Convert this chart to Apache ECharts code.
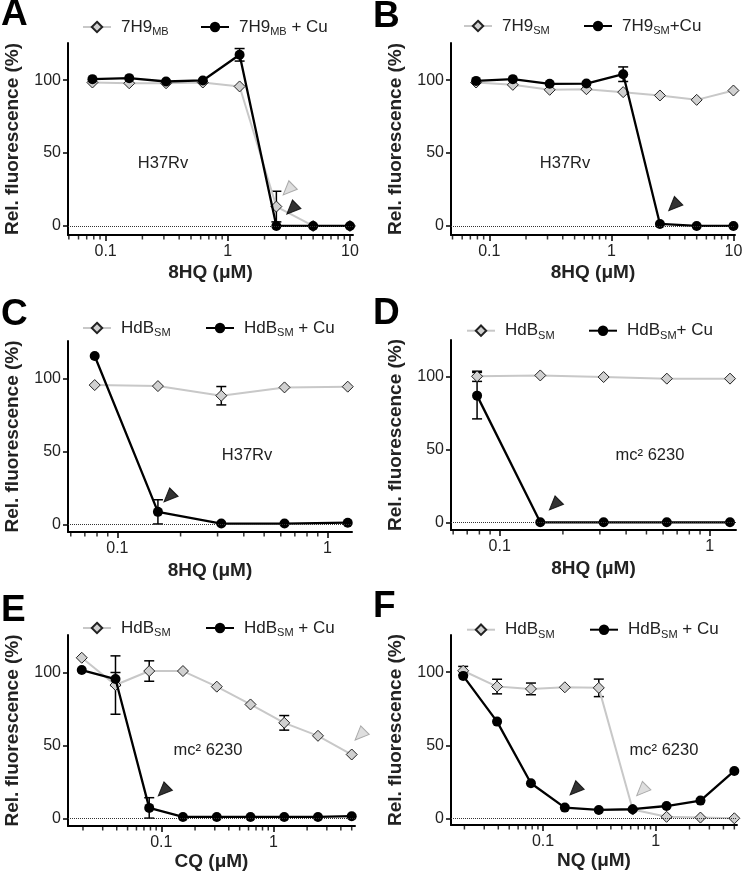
<!DOCTYPE html>
<html><head><meta charset="utf-8">
<script src="https://cdn.jsdelivr.net/npm/echarts@6/dist/echarts.min.js"></script>
<style>html,body{margin:0;padding:0;background:#fff}#c{width:742px;height:878px}</style>
</head><body><div id="c"></div>
<script>
// ---------- DATA ----------
const conc8 = [0.078, 0.156, 0.3125, 0.625, 1.25, 2.5, 5, 10];
const conc5 = [0.078, 0.156, 0.3125, 0.625, 1.25];
const conc9 = [0.0195, 0.039, 0.078, 0.156, 0.3125, 0.625, 1.25, 2.5, 5];

const greyA = [98.4, 97.9, 97.9, 98.4, 95.7, 13.3, 0, 0];
const greyErrA = [0, 0, 0, 0, 0, 10.5, 0, 0];
const blackA = [100.7, 101.4, 99.1, 99.8, 117.4, 0, 0, 0];
const blackErrA = [0, 0, 0, 0, 4.3, 0, 0, 0];

const greyB = [98.4, 96.8, 93.4, 93.8, 91.8, 89.5, 86.5, 92.9];
const greyErrB = [0, 0, 0, 0, 0, 0, 0, 0];
const blackB = [99.5, 100.7, 97.5, 97.7, 104.1, 1.4, 0, 0];
const blackErrB = [0, 0, 0, 0, 5, 0, 0, 0];

const greyC = [95.4, 94.7, 88.1, 93.8, 94.3];
const greyErrC = [0, 0, 6.3, 0, 0];
const blackC = [115.3, 8.5, 0.5, 0.5, 1.1];
const blackErrC = [0, 8.3, 0, 0, 0];

const greyD = [100.5, 101.1, 100, 98.9, 98.9];
const greyErrD = [3.5, 0, 0, 0, 0];
const blackD = [87.2, 0, 0, 0, 0];
const blackErrD = [16, 0, 0, 0, 0];

const greyE = [110, 91.3, 100.9, 100.9, 90.2, 78, 65.4, 56.5, 43.7];
const greyErrE = [0, 20, 7, 0, 0, 0, 5, 0, 0];
const blackE = [101.6, 95.4, 7.1, 0.9, 0.9, 0.9, 0.9, 0.9, 1.4];
const blackErrE = [0, 4.5, 7, 0, 0, 0, 0, 0, 0];

const greyF = [101, 90.2, 88.6, 89.7, 89.3, 6, 1, 0.5, 0];
const greyErrF = [3, 5, 4, 0, 6, 0, 0, 0, 0];
const blackF = [97.5, 66.2, 24, 7.3, 5.7, 6.2, 8.4, 12.1, 32.4];
const blackErrF = [0, 0, 0, 0, 0, 0, 0, 0, 0];

// arrowheads [conc, value]
const arrowBlackA = [[3.34, 11.5]];  const arrowGreyA = [[3.12, 24.7]];
const arrowBlackB = [[3.24, 13.9]];  const arrowGreyB = [];
const arrowBlackC = [[0.176, 18.7]]; const arrowGreyC = [];
const arrowBlackD = [[0.182, 11.9]]; const arrowGreyD = [];
const arrowBlackE = [[0.104, 18.7]]; const arrowGreyE = [[5.93, 57]];
const arrowBlackF = [[0.192, 19.4]]; const arrowGreyF = [[0.751, 18.9]];

const yTicks = [0, 50, 100];
const xTickLabels = [0.1, 1, 10];
const minorMultipliers = [2, 3, 4, 5, 6, 7, 8, 9];
const legendGrey = ['7H9{s|MB}', '7H9{s|SM}', 'HdB{s|SM}', 'HdB{s|SM}', 'HdB{s|SM}', 'HdB{s|SM}'];
const legendBlack = ['7H9{s|MB} + Cu', '7H9{s|SM}+Cu', 'HdB{s|SM} + Cu', 'HdB{s|SM}+ Cu', 'HdB{s|SM} + Cu', 'HdB{s|SM} + Cu'];
const xNames = ['8HQ (μM)', '8HQ (μM)', '8HQ (μM)', '8HQ (μM)', 'CQ (μM)', 'NQ (μM)'];
const strains = ['H37Rv', 'H37Rv', 'H37Rv', 'mc² 6230', 'mc² 6230', 'mc² 6230'];
const letters = ['A', 'B', 'C', 'D', 'E', 'F'];
const yName = 'Rel. fluorescence (%)';

// ---------- LAYOUT ----------
const FF = 'Liberation Sans, Arial, sans-serif';
const panels = [
  {conc: conc8, grey: greyA, gErr: greyErrA, black: blackA, bErr: blackErrA, aB: arrowBlackA, aG: arrowGreyA,
   grid: {left: 68, top: 43, width: 285, height: 192}, xMin: 0.0492, xMax: 10.6, yMin: -6.2, yMax: 125.5,
   legX: [82, 200], legY: 29, note: [163, 163], letter: [1, 15], nameGap: 28},
  {conc: conc8, grey: greyB, gErr: greyErrB, black: blackB, bErr: blackErrB, aB: arrowBlackB, aG: arrowGreyB,
   grid: {left: 451, top: 43, width: 284, height: 192}, xMin: 0.0486, xMax: 10.3, yMin: -6.2, yMax: 125.5,
   legX: [463, 583], legY: 28, note: [565, 163], letter: [373, 17], nameGap: 28},
  {conc: conc5, grey: greyC, gErr: greyErrC, black: blackC, bErr: blackErrC, aB: arrowBlackC, aG: arrowGreyC,
   grid: {left: 68, top: 341, width: 284, height: 191}, xMin: 0.0582, xMax: 1.31, yMin: -5.3, yMax: 125.6,
   legX: [82, 205], legY: 330, note: [247, 455], letter: [1, 315], nameGap: 29},
  {conc: conc5, grey: greyD, gErr: greyErrD, black: blackD, bErr: blackErrD, aB: arrowBlackD, aG: arrowGreyD,
   grid: {left: 451, top: 340, width: 285, height: 190}, xMin: 0.0586, xMax: 1.335, yMin: -5.3, yMax: 125.5,
   legX: [466, 588], legY: 332.7, note: [650, 455], letter: [373, 314], nameGap: 29},
  {conc: conc9, grey: greyE, gErr: greyErrE, black: blackE, bErr: blackErrE, aB: arrowBlackE, aG: arrowGreyE,
   grid: {left: 68, top: 635, width: 287, height: 191}, xMin: 0.0147, xMax: 5.35, yMin: -5.3, yMax: 125.6,
   legX: [82, 205], legY: 630, note: [208, 750], letter: [1, 611], nameGap: 20},
  {conc: conc9, grey: greyF, gErr: greyErrF, black: blackF, bErr: blackErrF, aB: arrowBlackF, aG: arrowGreyF,
   grid: {left: 451, top: 635, width: 286, height: 190}, xMin: 0.0152, xMax: 5.28, yMin: -4.6, yMax: 125.5,
   legX: [466, 589], legY: 631.7, note: [664, 750], letter: [373, 606.5], nameGap: 20}
];

const L = Math.log10;
function minorTicks(lo, hi) {
  const out = [];
  for (let e = -3; e <= 2; e++) {
    for (let j = 0; j < minorMultipliers.length; j++) {
      const v = L(minorMultipliers[j] * Math.pow(10, e));
      if (v >= lo && v <= hi) out.push(v);
    }
  }
  return out;
}
function fmtPow(v) { return String(+Math.pow(10, v).toPrecision(3)); }

const grids = [], xAxes = [], yAxes = [], series = [], legends = [], graphics = [];
const labelMap = {};
const legendText = {fontSize: 17, color: '#222', fontFamily: FF, padding: [0, 0, 0, 5],
  rich: {s: {fontSize: 11, color: '#222', fontFamily: FF, padding: [10, 0, 0, 0]}}};

panels.forEach((p, i) => {
  const lo = L(p.xMin), hi = L(p.xMax);
  grids.push(Object.assign({outerBoundsMode: 'none', containLabel: false}, p.grid));
  const majors = xTickLabels.map(L).filter(v => v >= lo - 1e-9 && v <= hi + 1e-9);
  xAxes.push({
    type: 'value', gridIndex: i, min: lo, max: hi, position: 'bottom',
    axisLine: {show: true, onZero: false, lineStyle: {color: '#000', width: 2}},
    axisTick: {show: true, customValues: majors, length: 6, lineStyle: {color: '#000', width: 1.5}},
    axisLabel: {customValues: majors, formatter: fmtPow, fontSize: 16, color: '#222', fontFamily: FF, margin: 9},
    splitLine: {show: false},
    name: xNames[i], nameLocation: 'middle', nameGap: p.nameGap,
    nameTextStyle: {fontWeight: 'bold', fontSize: 19, color: '#222', fontFamily: FF}
  });
  yAxes.push({
    type: 'value', gridIndex: i, min: p.yMin, max: p.yMax,
    axisLine: {show: true, onZero: false, lineStyle: {color: '#000', width: 2}},
    axisTick: {show: true, customValues: yTicks, length: 5, lineStyle: {color: '#000', width: 1.5}},
    axisLabel: {customValues: yTicks, fontSize: 16, color: '#222', fontFamily: FF, margin: 7},
    splitLine: {show: false},
    name: yName, nameLocation: 'middle', nameGap: 46,
    nameTextStyle: {fontWeight: 'bold', fontSize: 19, color: '#222', fontFamily: FF}
  });
  const xi = i, yi = i;
  const gName = 'g' + i, bName = 'b' + i;
  labelMap[gName] = legendGrey[i];
  labelMap[bName] = legendBlack[i];

  const errData = [];
  p.conc.forEach((c, k) => {
    if (p.gErr[k] > 0) errData.push([L(c), p.grey[k], p.gErr[k]]);
    if (p.bErr[k] > 0) errData.push([L(c), p.black[k], p.bErr[k]]);
  });
  series.push({
    type: 'custom', xAxisIndex: xi, yAxisIndex: yi, data: errData, encode: {x: 0, y: 1}, z: 1, silent: true,
    renderItem: (params, api) => {
      const x = api.value(0), y = api.value(1), e = api.value(2);
      const t = api.coord([x, y + e]), b = api.coord([x, y - e]);
      const hw = 5, st = {stroke: '#000', lineWidth: 1.5};
      return {type: 'group', children: [
        {type: 'line', shape: {x1: t[0], y1: t[1], x2: b[0], y2: b[1]}, style: st},
        {type: 'line', shape: {x1: t[0] - hw, y1: t[1], x2: t[0] + hw, y2: t[1]}, style: st},
        {type: 'line', shape: {x1: b[0] - hw, y1: b[1], x2: b[0] + hw, y2: b[1]}, style: st}
      ]};
    }
  });
  series.push({
    name: gName, type: 'line', xAxisIndex: xi, yAxisIndex: yi, z: 2,
    data: p.conc.map((c, k) => [L(c), p.grey[k]]),
    symbol: 'diamond', symbolSize: 11, showAllSymbol: true,
    itemStyle: {color: '#d0d0d0', borderColor: '#222', borderWidth: 1},
    lineStyle: {color: '#c8c8c8', width: 2},
    markLine: {silent: true, symbol: 'none', label: {show: false}, animation: false,
      lineStyle: {type: 'dotted', color: '#333', width: 1}, data: [{yAxis: 0}]}
  });
  series.push({
    name: bName, type: 'line', xAxisIndex: xi, yAxisIndex: yi, z: 3,
    data: p.conc.map((c, k) => [L(c), p.black[k]]),
    symbol: 'circle', symbolSize: 10, showAllSymbol: true,
    itemStyle: {color: '#000'}, lineStyle: {color: '#000', width: 2.3}
  });
  const marks = p.aB.map(a => ({value: [L(a[0]), a[1]], itemStyle: {color: '#000', borderColor: '#000'}}))
    .concat(p.aG.map(a => ({value: [L(a[0]), a[1]], itemStyle: {color: '#d6d6d6', borderColor: '#999'}})))
    // minor log ticks (2..9 x 10^k) just below the bottom edge of the plot
    .concat(minorTicks(lo, hi).map(v => ({value: [v, p.yMin], symbol: 'rect', symbolRotate: 0,
      symbolSize: [1.5, 4.5], symbolOffset: [0, 2.25], itemStyle: {color: '#000', borderWidth: 0}})));
  series.push({
    type: 'scatter', xAxisIndex: xi, yAxisIndex: yi, z: 4, clip: false, silent: true,
    data: marks, symbol: 'triangle', symbolRotate: 135, symbolSize: [12, 14],
    itemStyle: {borderWidth: 1}
  });
  legends.push({data: [gName], left: p.legX[0], top: p.legY - 10.5, padding: 0, itemWidth: 28, itemHeight: 13,
    selectedMode: false, formatter: n => labelMap[n], textStyle: legendText});
  legends.push({data: [bName], left: p.legX[1], top: p.legY - 10.5, padding: 0, itemWidth: 28, itemHeight: 13,
    selectedMode: false, formatter: n => labelMap[n], textStyle: legendText});
  graphics.push({type: 'text', x: p.letter[0], y: p.letter[1], silent: true,
    style: {text: letters[i], fontSize: 37, fontWeight: 'bold', fontFamily: FF, fill: '#000', align: 'left', verticalAlign: 'middle'}});
  graphics.push({type: 'text', x: p.note[0], y: p.note[1], silent: true,
    style: {text: strains[i], fontSize: 16.5, fontFamily: FF, fill: '#222', align: 'center', verticalAlign: 'middle'}});
});

const chart = echarts.init(document.getElementById('c'), null, {renderer: 'canvas'});
chart.setOption({
  animation: false,
  backgroundColor: '#fff',
  grid: grids, xAxis: xAxes, yAxis: yAxes, series: series, legend: legends, graphic: graphics
});
</script>
</body></html>
